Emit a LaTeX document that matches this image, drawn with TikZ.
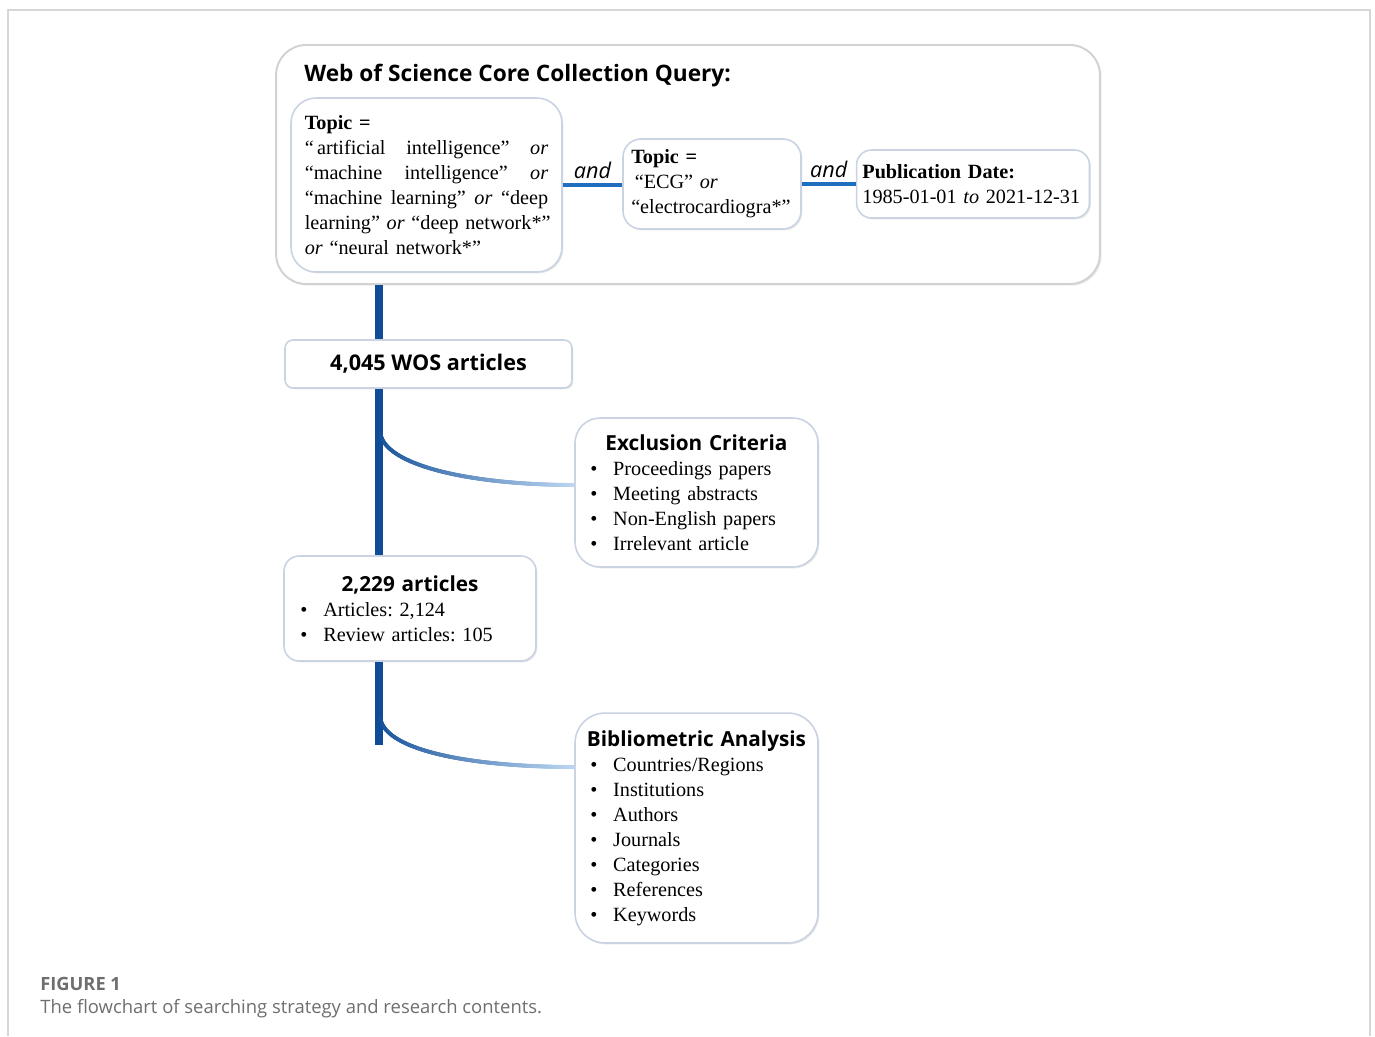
\documentclass[tikz,border=0pt]{standalone}
\usepackage{fontspec}
\setmainfont{Liberation Serif}
\newfontfamily\headfont{Open Sans}
\usetikzlibrary{shadows, decorations.markings}
\definecolor{trunkblue}{HTML}{0F4C96}
\definecolor{linkblue}{HTML}{1E6FC0}
\definecolor{paleblue}{HTML}{BCD6F1}
\definecolor{cardline}{HTML}{C9D3E2}
\definecolor{panelline}{HTML}{D2D2D2}
\definecolor{framegray}{HTML}{D6D6D6}
\definecolor{capgray}{HTML}{6E6E6E}
\setlength{\parindent}{0pt}
\frenchspacing
\newcommand{\qfont}{\fontsize{11.5pt}{14.2pt}\selectfont}
\newcommand{\hfont}{\headfont\bfseries\fontsize{11.8pt}{14.2pt}\selectfont}
\newcommand{\itm}[1]{\makebox[13pt][l]{\textbullet}#1}
\newcommand{\gap}{\ \hfill}
\tikzstyle{panel} = [rectangle, rounded corners=0.6cm, draw=panelline, line width=1.1pt, fill=white, drop shadow={opacity=0.15, shadow xshift=1pt, shadow yshift=-1pt}]
\tikzstyle{card} = [rectangle, draw=cardline, line width=0.9pt, fill=white, font=\qfont, align=left, drop shadow={opacity=0.18, shadow xshift=0.8pt, shadow yshift=-0.8pt}]
\tikzstyle{trunk} = [draw=trunkblue, line width=4.5pt]
\tikzstyle{link} = [draw=linkblue, line width=2.2pt]
\tikzstyle{andlbl} = [font=\headfont\itshape\fontsize{12.3pt}{14pt}\selectfont, inner sep=2.5pt]
\tikzstyle{fade} = [decorate, decoration={markings, mark=between positions 0 and 1 step 0.4pt with {\pgfmathsetmacro{\pc}{max(0,min(100,100-100*\pgfkeysvalueof{/pgf/decoration/mark info/distance from start}/\pgfdecoratedpathlength))}\fill[trunkblue!\pc!paleblue] (0pt,0pt) circle (1.15pt);}}]

\begin{document}
\begin{tikzpicture}[x=0.02cm, y=-0.02cm]
\useasboundingbox (0,0) rectangle (1375,1036);
\draw [draw=framegray, line width=0.6pt] (8,1036) -- (8,10) -- (1370,10) -- (1370,1036);

\node at (688, 164.5) (query) [panel, minimum width=16.48cm, minimum height=4.78cm] {};
\node at (304, 81) (queryTitle) [anchor=base west, inner sep=0pt, font=\headfont\bfseries\fontsize{12.9pt}{15pt}\selectfont] {Web of Science Core Collection Query:};

\node at (426.5, 185) (topicA) [card, rounded corners=0.5cm, minimum width=5.42cm, minimum height=3.48cm, text width=138.5pt] {\textbf{Topic =}\\
“\,artificial\gap intelligence”\gap\textit{or}\\
“machine\gap intelligence”\gap\textit{or}\\
“machine\gap learning”\gap\textit{or}\gap“deep\\
\mbox{learning” \textit{or} “deep network*”}\\
\textit{or} “neural network*”};
\node at (712, 184) (topicB) [card, rounded corners=0.36cm, minimum width=3.56cm, minimum height=1.8cm, text width=91.9pt] {\textbf{Topic =}\\
\hspace*{2pt}“ECG” \textit{or}\\
“electrocardiogra*”};
\node at (973, 184) (pubDate) [card, rounded corners=0.3cm, minimum width=4.6cm, minimum height=1.36cm, text width=125.9pt] {\textbf{Publication Date:}\\
1985-01-01 \textit{to} 2021-12-31};

\draw [link] (topicA.east) -- (topicA.east -| topicB.west) node [midway, above, andlbl] {and};
\draw [link] (topicB.east) -- (topicB.east -| pubDate.west) node [midway, above, andlbl] {and};

\node at (428.5, 364) (wos) [card, rounded corners=0.16cm, minimum width=5.74cm, minimum height=0.96cm, font=\headfont\bfseries\fontsize{12.3pt}{14.2pt}\selectfont] {4,045 WOS articles};
\node at (410, 608.5) (articles) [card, rounded corners=0.3cm, minimum width=5.04cm, minimum height=2.1cm, text width=124.7pt] {\makebox[\hsize]{\hfont 2,229 articles}\\
\itm{Articles: 2,124}\\
\itm{Review articles: 105}};

\coordinate (trunk) at (379, 0);
\coordinate (trunkEnd) at (379, 745);
\draw [trunk] (query.south -| trunk) -- (wos.north -| trunk);
\draw [trunk] (wos.south -| trunk) -- (articles.north -| trunk);
\draw [trunk] (articles.south -| trunk) -- (trunkEnd);

\coordinate (forkA) at (380, 430);
\coordinate (exclIn) at (575, 485);
\coordinate (forkB) at (380, 715);
\coordinate (bibIn) at (575, 767);
\path [fade] (forkA) .. controls +(0, 35) and +(-105, 0) .. (exclIn);
\path [fade] (forkB) .. controls +(0, 35) and +(-105, 0) .. (bibIn);

\node at (696.5, 492.5) (exclusion) [card, rounded corners=0.5cm, minimum width=4.86cm, minimum height=2.98cm, text width=120.8pt] {\makebox[\hsize]{\hfont Exclusion Criteria}\\
\itm{Proceedings papers}\\
\itm{Meeting abstracts}\\
\itm{Non-English papers}\\
\itm{Irrelevant article}};
\node at (696.5, 828) (biblio) [card, rounded corners=0.6cm, minimum width=4.86cm, minimum height=4.6cm, text width=120.8pt] {\makebox[\hsize]{\hfont Bibliometric Analysis}\\
\itm{Countries/Regions}\\
\itm{Institutions}\\
\itm{Authors}\\
\itm{Journals}\\
\itm{Categories}\\
\itm{References}\\
\itm{Keywords}};

\node at (40, 990) (figNo) [anchor=base west, inner sep=0pt, text=capgray, font=\headfont\bfseries\fontsize{10.4pt}{12pt}\selectfont] {FIGURE 1};
\node at (40, 1013) (figCaption) [anchor=base west, inner sep=0pt, text=capgray, font=\headfont\fontsize{10.5pt}{12pt}\selectfont] {The flowchart of searching strategy and research contents.};

\end{tikzpicture}
\end{document}
